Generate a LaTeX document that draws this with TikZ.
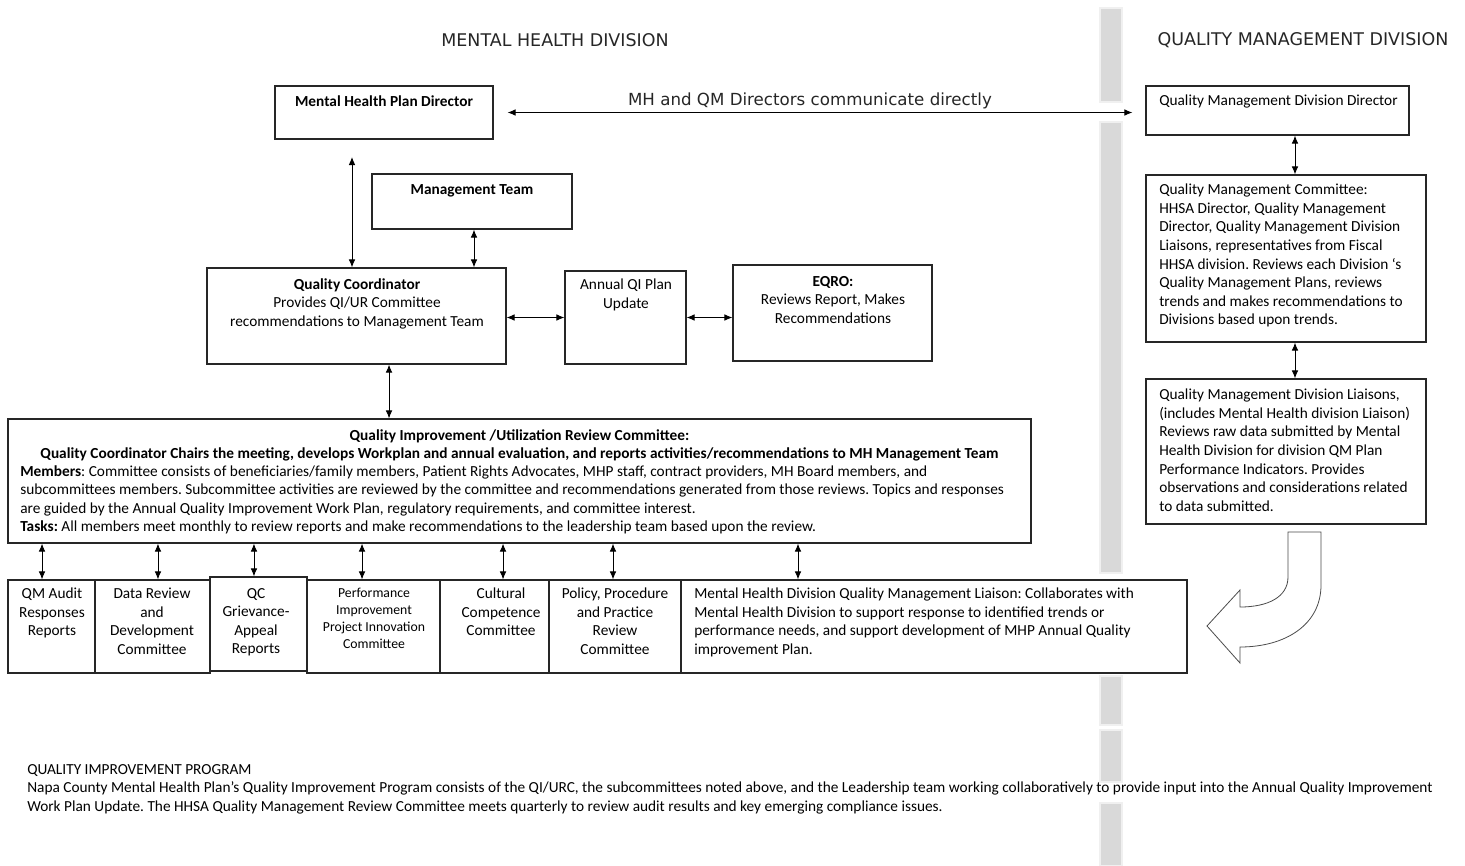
\documentclass[tikz,border=0pt]{standalone}
\usepackage{fontspec}
\setmainfont{Carlito}
\newfontfamily\headfont{DejaVu Sans}
\usetikzlibrary{arrows.meta,positioning,fit}
\frenchspacing

\tikzset{
  box/.style={draw=black!85, line width=0.9pt, fill=white, inner sep=0pt},
  txt/.style={inner sep=0pt, font=\fontsize{11.5}{13.9}\selectfont, align=left},
  ctxt/.style={txt, align=center},
  smalltxt/.style={inner sep=0pt, font=\fontsize{10.3}{12.75}\selectfont, align=center},
  biarrow/.style={{Latex[length=6pt,width=5pt]}-{Latex[length=6pt,width=5pt]}, line width=0.7pt},
  barseg/.style={fill=gray!30, draw=gray!12, line width=1.5pt},
  heading/.style={inner sep=0pt, font=\headfont\fontsize{13.1}{15}\selectfont, text=black!85},
  dirlabel/.style={inner sep=0pt, font=\headfont\fontsize{12.5}{15}\selectfont, text=black!85}
}

\begin{document}
\begin{tikzpicture}[x=0.75pt, y=-0.75pt]
  \useasboundingbox[fill=white] (0,0) rectangle (1465,865);

  % Barra divisoria
  \foreach \ya/\yb in {8/102, 122/573, 676/725, 730/782, 803/866}
    \draw[barseg] (1100,\ya) rectangle (1122,\yb);

  % Titulos
  \node[heading] (mhdiv) at (555,40) {MENTAL HEALTH DIVISION};
  \node[heading] (qmdiv) at (1303,40) {QUALITY MANAGEMENT DIVISION};

  % Caixas da divisao de saude mental
  \node[box, fit={(275,86) (493,139)}] (mhpd) {};
  \node[box, fit={(372,174) (572,229)}] (mgmt) {};
  \node[box, fit={(207,268) (506,364)}] (qc) {};
  \node[box, fit={(565,271) (686,364)}] (aqip) {};
  \node[box, fit={(733,265) (932,361)}] (eqro) {};
  \node[box, fit={(8,419) (1031,543)}] (qiur) {};

  % Caixas da divisao de gestao da qualidade
  \node[box, fit={(1146,86) (1409,135)}] (qmdd) {};
  \node[box, fit={(1146,175) (1426,342)}] (qmc) {};
  \node[box, fit={(1146,379) (1426,524)}] (qml) {};

  % Subcomites
  \node[box, fit={(8,580) (95,673)}] (qma) {};
  \node[box, fit={(95,580) (210,673)}] (drd) {};
  \node[box, fit={(210,577) (307,671)}] (qcg) {};
  \node[box, fit={(307,580) (440,673)}] (pip) {};
  \node[box, fit={(440,580) (549,673)}] (ccc) {};
  \node[box, fit={(549,580) (681,673)}] (ppp) {};
  \node[box, fit={(681,580) (1187,673)}] (mhql) {};

  % Textos das caixas
  \node[ctxt, anchor=north] (mhpdtx) at (384,95) {\textbf{Mental Health Plan Director}};
  \node[ctxt, anchor=north] (mgmttx) at (472,184) {\textbf{Management Team}};
  \node[ctxt, anchor=north] (qctx) at (357,278) {\textbf{Quality Coordinator}\\Provides QI/UR Committee\\recommendations to Management Team};
  \node[ctxt, anchor=north] (aqiptx) at (626,279) {Annual QI Plan\\Update};
  \node[ctxt, anchor=north] (eqrotx) at (833,276) {\textbf{EQRO:}\\Reviews Report, Makes\\Recommendations};
  \node[ctxt, anchor=north] (qiurhd) at (519.5,429) {\textbf{Quality Improvement /Utilization Review Committee:}\\
    \textbf{Quality Coordinator Chairs the meeting, develops Workplan and annual evaluation, and reports activities/recommendations to MH Management Team}};
  \node[txt, anchor=north west] (qiurtx) at (20,465) {\textbf{Members}: Committee consists of beneficiaries/family members, Patient Rights Advocates, MHP staff, contract providers, MH Board members, and\\
    subcommittees members. Subcommittee activities are reviewed by the committee and recommendations generated from those reviews. Topics and responses\\
    are guided by the Annual Quality Improvement Work Plan, regulatory requirements, and committee interest.\\
    \textbf{Tasks:} All members meet monthly to review reports and make recommendations to the leadership team based upon the review.};

  \node[txt, anchor=north west] (qmddtx) at (1159,95) {Quality Management Division Director};
  \node[txt, anchor=north west] (qmctx) at (1159,184) {Quality Management Committee:\\
    HHSA Director, Quality Management\\
    Director, Quality Management Division\\
    Liaisons, representatives from Fiscal\\
    HHSA division. Reviews each Division ‘s\\
    Quality Management Plans, reviews\\
    trends and makes recommendations to\\
    Divisions based upon trends.};
  \node[txt, anchor=north west] (qmltx) at (1159,389) {Quality Management Division Liaisons,\\
    (includes Mental Health division Liaison)\\
    Reviews raw data submitted by Mental\\
    Health Division for division QM Plan\\
    Performance Indicators. Provides\\
    observations and considerations related\\
    to data submitted.};

  \node[ctxt, anchor=north] (qmatx) at (52,588) {QM Audit\\Responses\\Reports};
  \node[ctxt, anchor=north] (drdtx) at (152,588) {Data Review\\and\\Development\\Committee};
  \node[ctxt, anchor=north] (qcgtx) at (256,588) {QC\\Grievance-\\Appeal\\Reports};
  \node[smalltxt, anchor=north] (piptx) at (374,588) {Performance\\Improvement\\Project Innovation\\Committee};
  \node[ctxt, anchor=north] (ccctx) at (501,588) {Cultural\\Competence\\Committee};
  \node[ctxt, anchor=north] (ppptx) at (615,588) {Policy, Procedure\\and Practice\\Review\\Committee};
  \node[txt, anchor=north west] (mhqltx) at (694,588) {Mental Health Division Quality Management Liaison: Collaborates with\\
    Mental Health Division to support response to identified trends or\\
    performance needs, and support development of MHP Annual Quality\\
    improvement Plan.};

  % Comunicacao entre diretores
  \draw[biarrow, shorten <=10.5pt, shorten >=9.75pt] (mhpd.east) -- (mhpd.east -| qmdd.west);
  \node[dirlabel] (dirlbl) at (810,101) {MH and QM Directors communicate directly};

  % Setas verticais e horizontais
  \coordinate (qctop) at (352,157);
  \draw[biarrow] (qctop) -- (qctop |- qc.north);
  \draw[biarrow] ([xshift=1.5pt]mgmt.south) -- ([xshift=1.5pt]mgmt.south |- qc.north);
  \draw[biarrow] (aqip.west) -- (aqip.west -| qc.east);
  \draw[biarrow] (aqip.east) -- (aqip.east -| eqro.west);
  \draw[biarrow] ([xshift=24.4pt]qc.south) -- ([xshift=24.4pt]qc.south |- qiur.north);
  \foreach \b/\dx in {qma/-7.1, drd/4.1, qcg/-3.4, pip/-8.6, ccc/6.4, ppp/-1.5, mhql/-102}
    \draw[biarrow] ([xshift=\dx pt]\b.north) -- ([xshift=\dx pt]\b.north |- qiur.south);
  \draw[biarrow] ([xshift=6.75pt]qmc.north) -- ([xshift=6.75pt]qmc.north |- qmdd.south);
  \draw[biarrow] ([xshift=6.75pt]qml.north) -- ([xshift=6.75pt]qml.north |- qmc.south);

  % Seta curva vazada
  \draw[draw=black!70, fill=white, line width=0.6pt]
    (1288,532) -- (1321,532) -- (1321,585)
    .. controls (1321,625) and (1285,647) .. (1240,647)
    -- (1240,663) -- (1207,626) -- (1240,590) -- (1240,607)
    .. controls (1268,607) and (1288,597) .. (1288,577) -- cycle;

  % Programa de melhoria da qualidade
  \node[txt, anchor=north west] (qiptx) at (27,764) {QUALITY IMPROVEMENT PROGRAM\\
    Napa County Mental Health Plan’s Quality Improvement Program consists of the QI/URC, the subcommittees noted above, and the Leadership team working collaboratively to provide input into the Annual Quality Improvement\\
    Work Plan Update. The HHSA Quality Management Review Committee meets quarterly to review audit results and key emerging compliance issues.};
\end{tikzpicture}
\end{document}
